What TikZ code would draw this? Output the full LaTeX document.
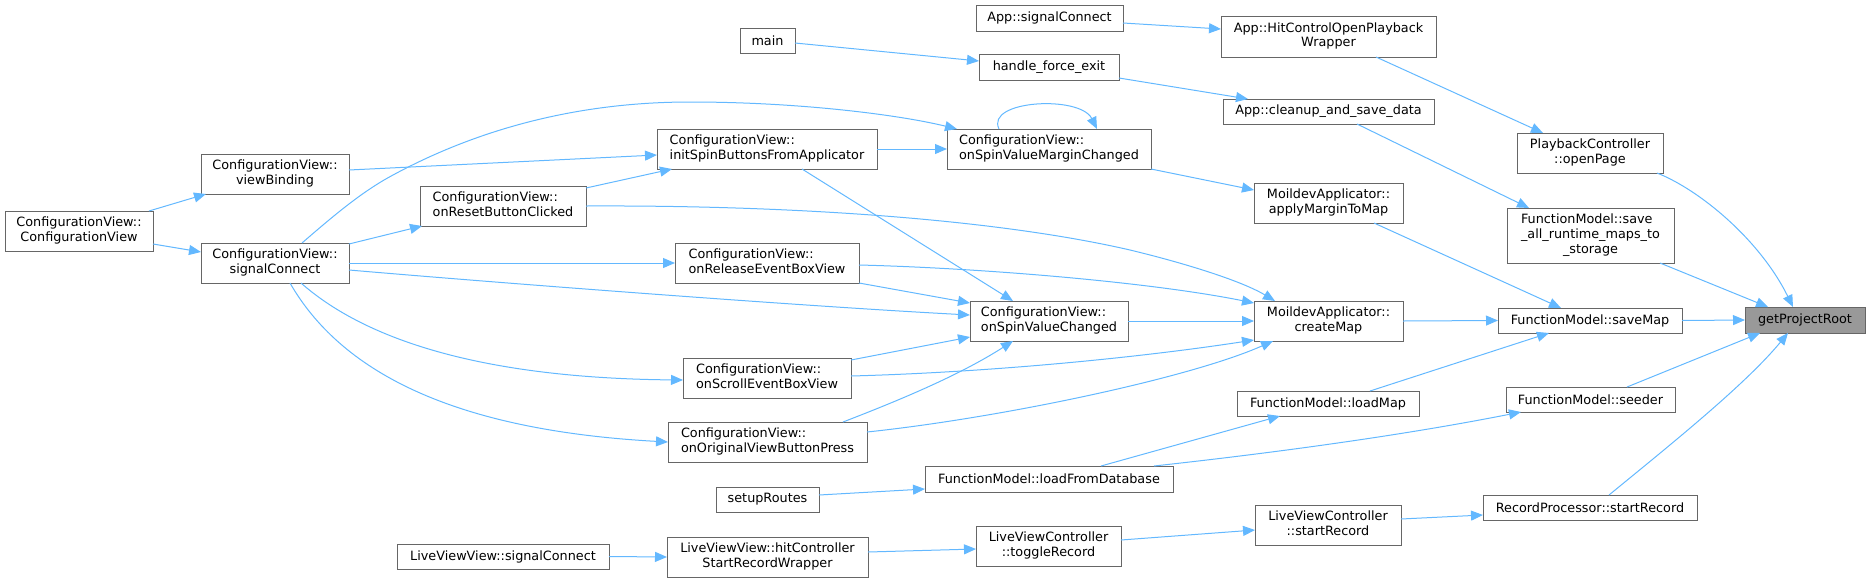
\documentclass[tikz,border=0pt]{standalone}
\usepackage{fontspec}
\setmainfont{DejaVu Sans}
\usetikzlibrary{arrows.meta}
\definecolor{edgec}{HTML}{63B8FF}
\definecolor{nodeb}{HTML}{666666}
\definecolor{rootf}{HTML}{999999}
\newcommand\twol[2]{\begin{tabular}{@{}l@{}}#1\\\multicolumn{1}{@{}c@{}}{#2}\end{tabular}}
\newcommand\threel[3]{\begin{tabular}{@{}l@{}}#1\\#2\\\multicolumn{1}{@{}c@{}}{#3}\end{tabular}}
\begin{document}
\begin{tikzpicture}[x=1pt,y=-1pt,
  font=\fontsize{12.8}{14.67}\selectfont,
  box/.style={rectangle, draw=nodeb, fill=white, line width=1pt, inner sep=0pt, outer sep=0pt, text=black},
  rootbox/.style={box, fill=rootf},
  corners/.style n args={4}{at={({(#1+#3)/2},{(#2+#4)/2})}, minimum width={(#3)-(#1)}, minimum height={(#4)-(#2)}},
  calledge/.style={draw=edgec, line width=1pt, -{Triangle[length=12pt,width=10pt]}}]
\useasboundingbox (0,0) rectangle (1869,582);

% nodes
\node[rootbox, corners={1745}{307}{1865}{333}] (gpr) {getProjectRoot};
\node[box, corners={1517}{133}{1663}{173}] (openPage) {\twol{PlaybackController}{::openPage}};
\node[box, corners={1507}{208}{1674}{263}] (saveAll) {\threel{FunctionModel::save}{\_all\_runtime\_maps\_to}{\_storage}};
\node[box, corners={1498}{308}{1682}{333}] (saveMap) {FunctionModel::saveMap};
\node[box, corners={1506}{387}{1675}{412}] (seeder) {FunctionModel::seeder};
\node[box, corners={1483}{495}{1697}{520}] (rpStart) {RecordProcessor::startRecord};
\node[box, corners={1221}{16}{1436}{57}] (hitCtl) {\twol{App::HitControlOpenPlayback}{Wrapper}};
\node[box, corners={976}{5}{1123}{31}] (appSig) {App::signalConnect};
\node[box, corners={1223}{99}{1434}{124}] (cleanup) {App::cleanup\_and\_save\_data};
\node[box, corners={979}{54}{1119}{80}] (hfe) {handle\_force\_exit};
\node[box, corners={740}{28}{795}{53}] (mainf) {main};
\node[box, corners={1254}{183}{1403}{223}] (applyM) {\twol{MoildevApplicator::}{applyMarginToMap}};
\node[box, corners={1254}{301}{1403}{341}] (createMap) {\twol{MoildevApplicator::}{createMap}};
\node[box, corners={1237}{391}{1419}{416}] (loadMap) {FunctionModel::loadMap};
\node[box, corners={947}{129}{1151}{169}] (svmc) {\twol{ConfigurationView::}{onSpinValueMarginChanged}};
\node[box, corners={657}{129}{877}{169}] (initSpin) {\twol{ConfigurationView::}{initSpinButtonsFromApplicator}};
\node[box, corners={201}{154}{349}{194}] (viewB) {\twol{ConfigurationView::}{viewBinding}};
\node[box, corners={420}{186}{586}{226}] (reset) {\twol{ConfigurationView::}{onResetButtonClicked}};
\node[box, corners={5}{211}{153}{251}] (cvctor) {\twol{ConfigurationView::}{ConfigurationView}};
\node[box, corners={201}{243}{349}{283}] (cvsig) {\twol{ConfigurationView::}{signalConnect}};
\node[box, corners={675}{243}{859}{283}] (release) {\twol{ConfigurationView::}{onReleaseEventBoxView}};
\node[box, corners={970}{301}{1128}{341}] (svc) {\twol{ConfigurationView::}{onSpinValueChanged}};
\node[box, corners={683}{358}{851}{398}] (scroll) {\twol{ConfigurationView::}{onScrollEventBoxView}};
\node[box, corners={668}{422}{867}{462}] (orig) {\twol{ConfigurationView::}{onOriginalViewButtonPress}};
\node[box, corners={925}{466}{1173}{492}] (loadDB) {FunctionModel::loadFromDatabase};
\node[box, corners={716}{487}{819}{512}] (routes) {setupRoutes};
\node[box, corners={397}{544}{609}{569}] (lvSig) {LiveViewView::signalConnect};
\node[box, corners={667}{537}{868}{577}] (lvHit) {\twol{LiveViewView::hitController}{StartRecordWrapper}};
\node[box, corners={976}{526}{1121}{566}] (toggle) {\twol{LiveViewController}{::toggleRecord}};
\node[box, corners={1255}{505}{1401}{545}] (lvcStart) {\twol{LiveViewController}{::startRecord}};

% edges into getProjectRoot
\draw[calledge] ([xshift=-6]openPage.south east) .. controls (1700,190) and (1760,240) .. ([xshift=48]gpr.north west);
\draw[calledge] ([xshift=-14]saveAll.south east) -- ([xshift=23]gpr.north west);
\draw[calledge] (saveMap.east) -- (gpr.west);
\draw[calledge] ([xshift=121]seeder.north west) -- ([xshift=15]gpr.south west);
\draw[calledge] ([xshift=126]rpStart.north west) .. controls (1670,445) and (1745,385) .. ([xshift=43]gpr.south west);

% upper right
\draw[calledge] ([xshift=155]hitCtl.south west) -- ([xshift=26]openPage.north west);
\draw[calledge] ([yshift=-5]appSig.east) -- ([yshift=7.5]hitCtl.west);
\draw[calledge] ([xshift=134]cleanup.south west) -- ([xshift=22]saveAll.north west);
\draw[calledge] ([yshift=2]hfe.south east) -- ([xshift=25]cleanup.north west);
\draw[calledge] ([yshift=-2.5]mainf.east) -- ([yshift=6]hfe.west);

% into saveMap
\draw[calledge] ([xshift=120]applyM.south west) -- ([xshift=63]saveMap.north west);
\draw[calledge] (createMap.east) -- (saveMap.west);
\draw[calledge] ([xshift=133]loadMap.north west) -- ([xshift=51]saveMap.south west);

% onSpinValueMarginChanged
\draw[calledge] (svmc.south east) -- ([yshift=13]applyM.west);
\draw[calledge] ([xshift=52]svmc.north west) .. controls (985,100) and (1080,95) .. ([xshift=150]svmc.north west);
\draw[calledge] (initSpin.east) -- (svmc.west);
\draw[calledge] ([xshift=101]cvsig.north west) .. controls (340,210) and (365,190) .. (393,175)
   .. controls (480,128) and (580,102) .. (690,102)
   .. controls (800,102) and (900,115) .. ([xshift=10]svmc.north west);

% left part
\draw[calledge] ([yshift=4]viewB.east) -- ([yshift=-6]initSpin.west);
\draw[calledge] ([yshift=-2]reset.north east) -- ([xshift=15]initSpin.south west);
\draw[calledge] ([xshift=-4]cvctor.north east) -- ([xshift=5]viewB.south west);
\draw[calledge] ([yshift=-13]cvctor.east) -- ([yshift=11]cvsig.west);
\draw[calledge] ([yshift=-1]cvsig.north east) -- ([xshift=2]reset.south west);
\draw[calledge] ([xshift=145]initSpin.south west) -- ([xshift=43]svc.north west);
\draw[calledge] (reset.east) .. controls (800,205) and (1000,220) .. (1130,250)
   .. controls (1180,262) and (1240,280) .. ([xshift=21]createMap.north west);
\draw[calledge] (cvsig.east) -- (release.west);
\draw[calledge] ([yshift=-7]cvsig.east) .. controls (500,283) and (800,306) .. ([yshift=6]svc.west);
\draw[calledge] ([xshift=100]cvsig.south west) .. controls (360,335) and (470,378) .. ([yshift=-2]scroll.west);
\draw[calledge] ([xshift=89]cvsig.south west) .. controls (340,370) and (450,430) .. (orig.west);

% into onSpinValueChanged / createMap
\draw[calledge] (release.south east) -- ([yshift=-2]svc.north west);
\draw[calledge] ([yshift=-2]release.east) .. controls (980,268) and (1150,282) .. ([yshift=-2]createMap.north west);
\draw[calledge] ([yshift=-2]scroll.north east) -- ([yshift=4]svc.south west);
\draw[calledge] ([yshift=2]scroll.east) .. controls (1000,372) and (1150,356) .. ([yshift=1]createMap.south west);
\draw[calledge] ([xshift=-24]orig.north east) .. controls (900,400) and (960,375) .. ([xshift=43]svc.south west);
\draw[calledge] ([yshift=10]orig.east) .. controls (1000,418) and (1190,378) .. ([xshift=19]createMap.south west);
\draw[calledge] (svc.east) -- (createMap.west);

% lower part
\draw[calledge] ([xshift=176]loadDB.north west) -- ([xshift=43]loadMap.south west);
\draw[calledge] ([xshift=229]loadDB.north west) .. controls (1300,450) and (1420,432) .. ([xshift=15]seeder.south west);
\draw[calledge] ([yshift=4.5]routes.east) -- ([yshift=-10]loadDB.west);
\draw[calledge] (lvSig.east) -- (lvHit.west);
\draw[calledge] ([yshift=5]lvHit.east) -- ([yshift=-3]toggle.west);
\draw[calledge] ([yshift=6]toggle.east) -- ([yshift=-5]lvcStart.west);
\draw[calledge] ([yshift=6]lvcStart.east) -- ([yshift=-7.5]rpStart.west);
\end{tikzpicture}
\end{document}
